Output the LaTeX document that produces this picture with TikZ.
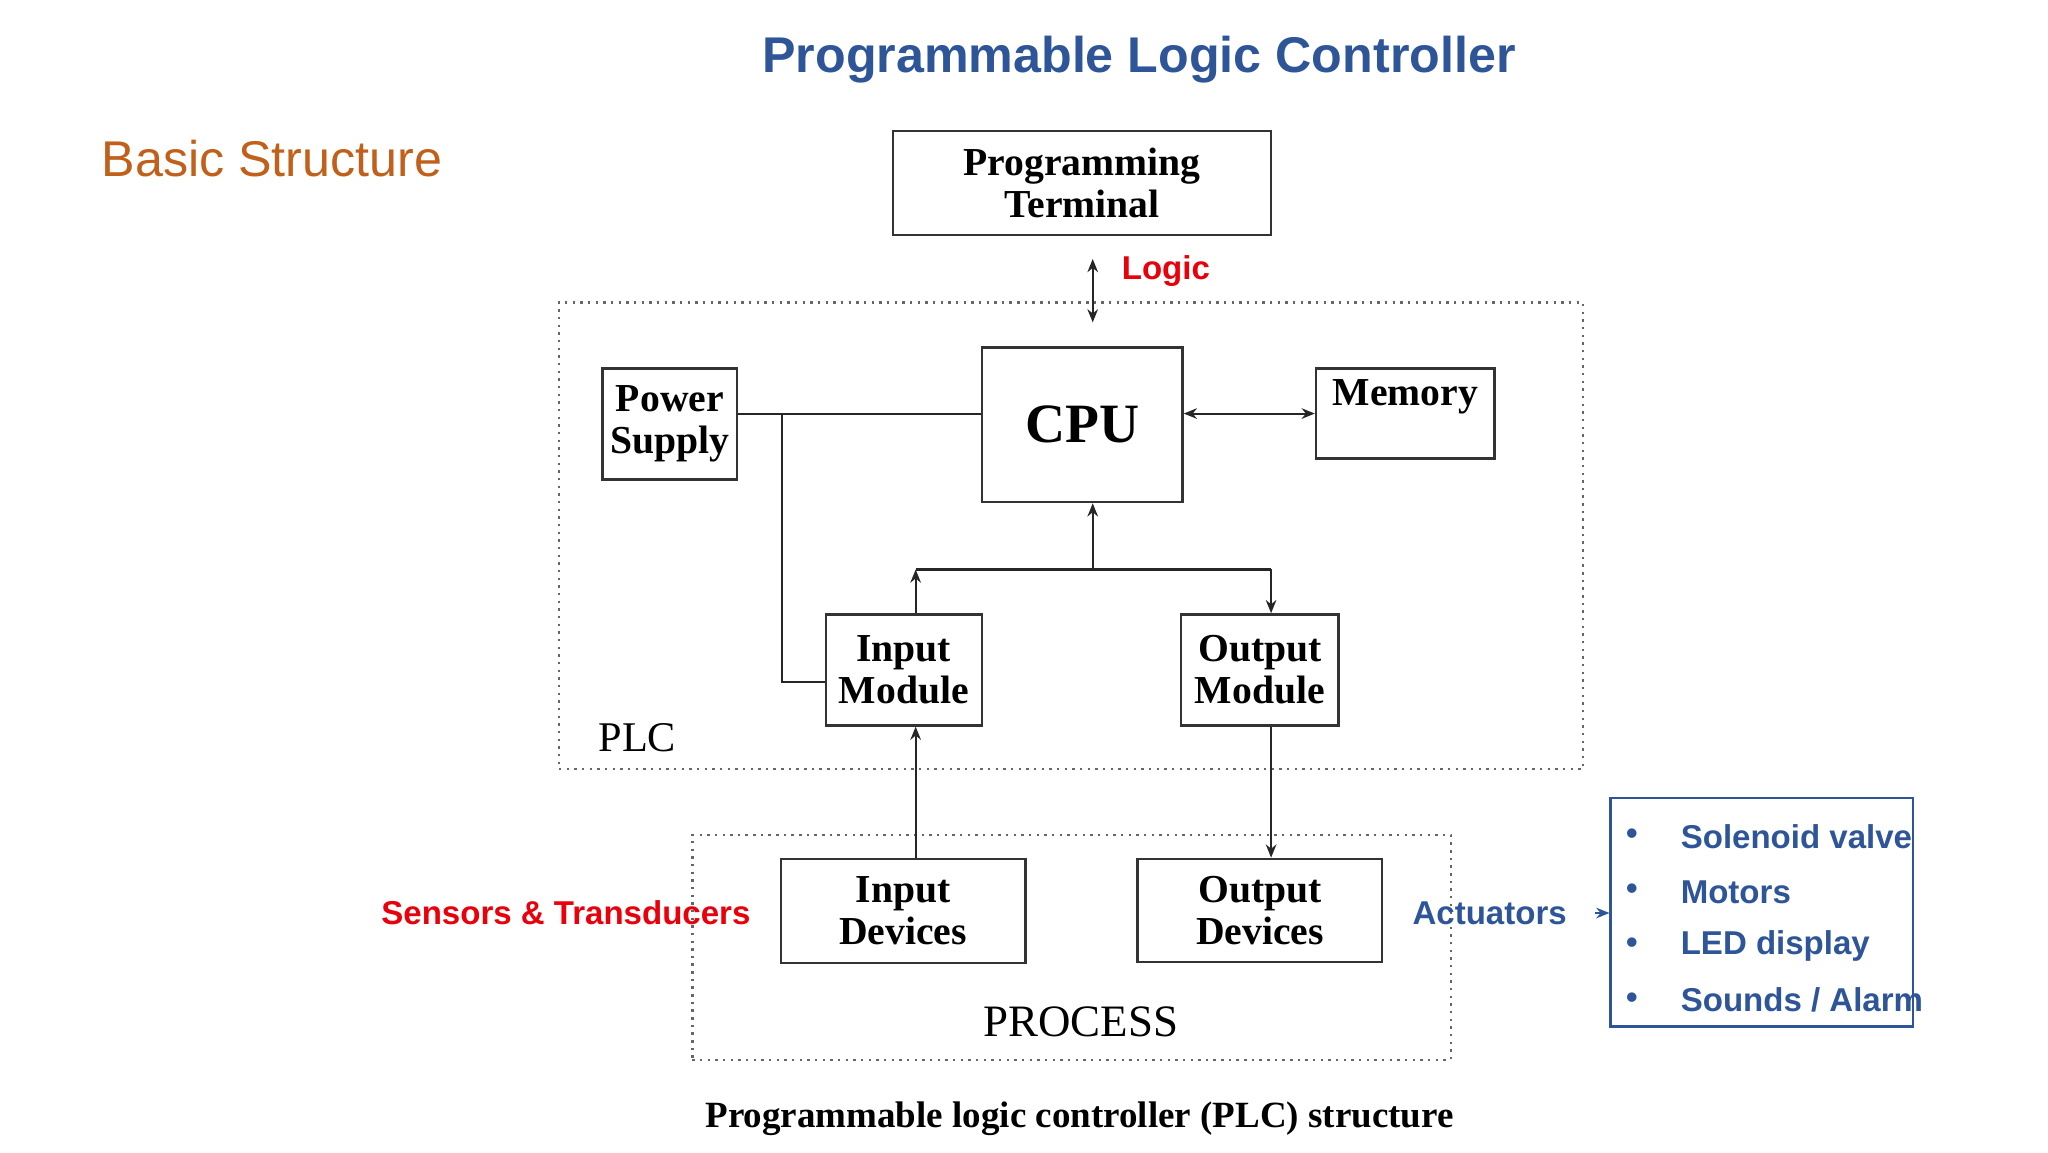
\documentclass[tikz,border=0pt]{standalone}
\usepackage{fontspec}
\setmainfont{Liberation Serif}
\newfontfamily\sansf{Liberation Sans}
\usetikzlibrary{arrows.meta}
\definecolor{tblue}{HTML}{2E5597}
\definecolor{torange}{HTML}{C0601A}
\definecolor{tred}{HTML}{E8000B}
\begin{document}
\begin{tikzpicture}[x=0.5pt,y=-0.5pt,
  blk/.style={draw=black!80,line width=0.9pt,inner sep=0pt,align=center,font=\fontsize{15}{16}\selectfont\bfseries},
  grp/.style={draw=black!60,dotted,line width=0.9pt,inner sep=0pt},
  con/.style={line width=0.8pt,black!85},
  arr/.style={con,-{Stealth[length=5pt,width=4pt]}},
  lab/.style={font=\sansf\bfseries\fontsize{12.5}{14}\selectfont}]
\useasboundingbox (0,0) rectangle (1550,872);
\node[font=\sansf\bfseries\fontsize{19}{22}\selectfont,text=tblue] (title) at (862,45) {Programmable Logic Controller};
\node[font=\sansf\fontsize{19}{22}\selectfont,text=torange,anchor=west] (bs) at (70,120) {Basic Structure};
% groups
\node[grp,minimum width=387.5pt,minimum height=176.5pt] (plc) at (810.5,405.5) {};
\node[grp,minimum width=287pt,minimum height=85pt] (proc) at (811,717) {};
% blocks
\node[blk,minimum width=143pt,minimum height=39.5pt] (pt) at (819,138.5) {Programming\\Terminal};
\node[blk,minimum width=51pt,minimum height=42pt] (ps) at (507,321) {Power\\Supply};
\node[blk,minimum width=76pt,minimum height=58.5pt,font=\fontsize{21}{24}\selectfont\bfseries] (cpu) at (819,321.5) {CPU};
\node[blk,minimum width=67.5pt,minimum height=34pt] (mem) at (1063.5,313) {};
\node[font=\fontsize{15}{16}\selectfont\bfseries] (memt) at (1063.5,300) {Memory};
\node[blk,minimum width=59pt,minimum height=42pt] (im) at (684,507) {Input\\Module};
\node[blk,minimum width=59.5pt,minimum height=42pt] (om) at (953.5,507) {Output\\Module};
\node[blk,minimum width=92.5pt,minimum height=39.5pt] (id) at (683.5,689.5) {Input\\Devices};
\node[blk,minimum width=92.5pt,minimum height=39pt] (od) at (953.5,689) {Output\\Devices};
\node[font=\fontsize{16}{18}\selectfont,anchor=west] (plcl) at (446,558) {PLC};
\node[font=\fontsize{17}{20}\selectfont] (procl) at (818,773) {PROCESS};
\node[font=\fontsize{14}{16}\selectfont\bfseries] (cap) at (817,847) {Programmable logic controller (PLC) structure};
% labels
\node[lab,text=tred,anchor=west] (logic) at (842,205) {Logic};
\node[lab,text=tred,anchor=east] (sens) at (575,691) {Sensors \& Transducers};
\node[lab,text=tblue,anchor=west] (act) at (1062,691) {Actuators};
\node[draw=tblue,line width=0.9pt,minimum width=114.5pt,minimum height=86.5pt,inner sep=0pt] (list) at (1333.5,690.5) {};
\foreach \t/\y [count=\i] in {{Solenoid valve}/633,{Motors}/675,{LED display}/716,{Sounds / Alarm}/757}{
  \node[lab,text=tblue,anchor=west] (it\i) at (1265,\y) {\t};
  \node[lab,text=tblue] (bu\i) at (1235,\y) {\textbullet};
}
% connectors
\coordinate (lt) at (827,196);
\coordinate (lb) at (827,244);
\draw[con,{Stealth[length=5pt,width=4pt]}-{Stealth[length=5pt,width=4pt]}] (lt) -- (lb);
\draw[con] (ps.east |- 0,313) -- (cpu.west |- 0,313);
\coordinate (pj) at (592,313);
\draw[con] (pj) |- (im.west |- 0,516);
\draw[con,{Stealth[length=5pt,width=4pt]}-{Stealth[length=5pt,width=4pt]}] (cpu.east |- 0,313) -- (mem.west |- 0,313);
\coordinate (bj) at (827,431);
\draw[arr] (bj) -- (cpu.south -| bj);
\coordinate (bl) at (693,431);
\coordinate (br) at (962,431);
\draw[con] (bl) -- (br);
\draw[arr] (im.north -| bl) -- (bl);
\draw[arr] (br) -- (om.north -| br);
\draw[arr] (id.north -| bl) -- (im.south -| bl);
\draw[arr] (om.south -| br) -- (od.north -| br);
\draw[tblue,line width=0.9pt,-{Stealth[length=5pt,width=4pt]}] (act.east) ++(14,0) -- (list.west |- act.east);
\end{tikzpicture}
\end{document}
